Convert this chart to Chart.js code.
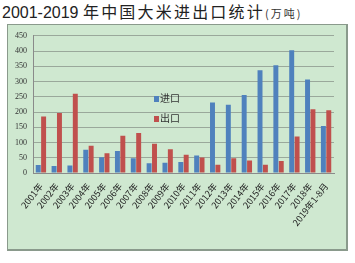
<!DOCTYPE html>
<html>
<head>
<meta charset="utf-8">
<script src="https://cdn.jsdelivr.net/npm/chart.js@4"></script>
<style>
  body { margin: 0; width: 355px; height: 263px; background: #fff; position: relative; overflow: hidden; font-family: "Noto Sans CJK SC", sans-serif; }
  #title { position: absolute; left: 2px; top: -1px; font-size: 16px; color: #222; white-space: nowrap; }
  #title .cn { letter-spacing: 2.2px; }
  #title small { font-size: 11px; color: #333; letter-spacing: 2px; }
  #panel { position: absolute; left: 7px; top: 24px; width: 338px; height: 224px; background: #cfe8d0; border: 1px solid #8a9a8c; border-right-width: 2px; border-bottom-width: 2px; }
  #panel canvas { position: absolute; left: 0; top: 0; }
  .lg { position: absolute; font-size: 10px; color: #333; line-height: 12px; }
  .lg i { display: inline-block; width: 5px; height: 6px; margin-right: 1px; vertical-align: 0px; }
</style>
</head>
<body>
<div id="title"><span style="font-family:'Liberation Sans'">2001-2019 </span><span class="cn">年中国大米进出口统计</span><small>(万吨)</small></div>
<div id="panel">
  <canvas id="myChart" width="338" height="224"></canvas>
  <div class="lg" style="left:146px; top:67px;"><i style="background:#4f81bd"></i>进口</div>
  <div class="lg" style="left:146px; top:87px;"><i style="background:#c0504d"></i>出口</div>
</div>
<script>
const years = ['2001年', '2002年', '2003年', '2004年', '2005年', '2006年', '2007年', '2008年', '2009年', '2010年',
  '2011年', '2012年', '2013年', '2014年', '2015年', '2016年', '2017年', '2018年', '2019年1-8月'];
const imports = [26, 23, 25, 76, 52, 72, 48, 32, 34, 36, 57, 231, 224, 256, 337, 353, 403, 307, 154];
const exports = [185, 197, 260, 89, 65, 122, 131, 96, 78, 60, 51, 27, 48, 41, 27, 39, 120, 209, 206];

var ctx = document.getElementById('myChart');

var import_seq = {
    label: '进口',
    data: imports,
    backgroundColor: '#4f81bd',
    categoryPercentage: 0.68,
    barPercentage: 0.92
}

var export_seq = {
    label: '出口',
    data: exports,
    backgroundColor: '#c0504d',
    categoryPercentage: 0.68,
    barPercentage: 0.92
}

new Chart(ctx, {
    type: 'bar',
    data: {
        labels: years,
        datasets: [import_seq, export_seq]
    },
    options: {
        responsive: false,
        animation: false,
        layout: { padding: { top: 10, right: 12, left: 0, bottom: 0 } },
        plugins: {
            legend: { display: false },
            tooltip: { enabled: false }
        },
        scales: {
            x: {
                grid: { display: false, drawTicks: true },
                border: { color: '#8a8a8a' },
                ticks: {
                    autoSkip: false,
                    minRotation: 52, maxRotation: 52,
                    color: '#222',
                    font: { size: 9, family: 'Noto Sans CJK SC' },
                    padding: 0
                },
                afterFit: (s) => { s.height = 76; }
            },
            y: {
                min: 0, max: 450,
                ticks: { stepSize: 50, color: '#333', font: { size: 8, family: 'Liberation Sans Narrow' }, padding: 6 },
                grid: { color: '#9aa89b', drawTicks: false },
                border: { display: true, color: '#8a8a8a' },
                afterFit: (s) => { s.width = 25; }
            }
        }
    }
});
</script>
</body>
</html>
